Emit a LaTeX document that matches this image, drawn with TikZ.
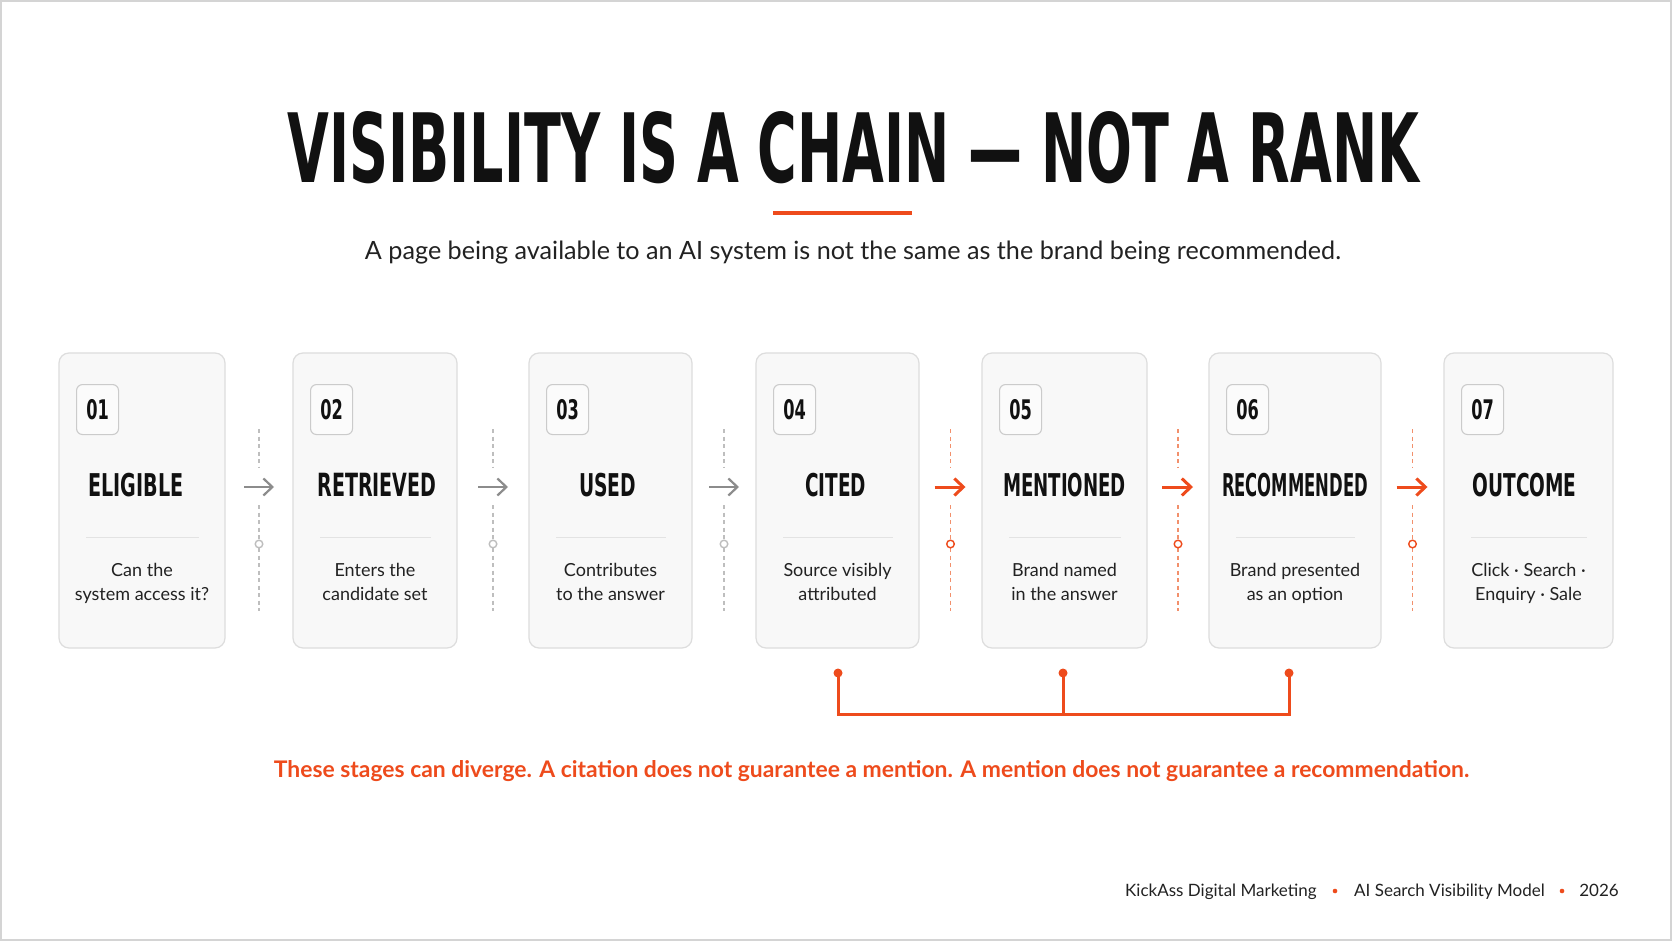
\documentclass[tikz,border=0pt]{standalone}
\usepackage{fontspec}
\setmainfont{Lato}
\newfontfamily\heavyfont{DejaVu Sans}
\usetikzlibrary{arrows.meta}
\definecolor{brand}{HTML}{EE4B1C}
\definecolor{ink}{HTML}{111111}
\definecolor{txt}{HTML}{222222}
\definecolor{cardfill}{HTML}{F8F8F8}
\definecolor{cardline}{HTML}{DDDDDD}
\definecolor{numfill}{HTML}{FBFBFB}
\definecolor{numline}{HTML}{CBCBCB}
\definecolor{divline}{HTML}{E3E3E3}
\definecolor{arrowgray}{HTML}{8C8C8C}
\definecolor{dashgray}{HTML}{BEBEBE}
\definecolor{dashorange}{HTML}{F2906C}
\definecolor{framecol}{HTML}{D4D4D4}
\newcommand\condtxt[2]{\scalebox{0.6}[1]{\fontsize{#1}{#1}\heavyfont\bfseries #2}}
\newcommand\fittxt[2]{\resizebox{#1pt}{23.3pt}{\heavyfont\bfseries #2}}
\tikzset{
  cardbox/.style={draw=cardline, line width=1.2pt, fill=cardfill, rounded corners=10pt, inner sep=0pt},
  numbox/.style={draw=numline, line width=1.1pt, fill=numfill, rounded corners=6pt,
    minimum width=42pt, minimum height=50pt, inner sep=0pt, anchor=north west, text=ink},
  stagetitle/.style={anchor=base, inner sep=0pt, text=ink},
  desc/.style={anchor=base, inner sep=0pt, text=txt, font=\fontsize{18}{24}\selectfont},
  divider/.style={draw=divline, line width=1pt},
  garrow/.style={draw=arrowgray, line width=2.2pt, -{Straight Barb[length=9pt,width=17pt]}},
  oarrow/.style={draw=brand, line width=3pt, -{Straight Barb[length=9pt,width=17pt]}},
  gdash/.style={draw=dashgray, line width=1.3pt, dash pattern=on 4pt off 3.5pt},
  odash/.style={draw=dashorange, line width=1.3pt, dash pattern=on 4pt off 3.5pt},
  gring/.style={draw=dashgray, fill=white, line width=1.4pt},
  oring/.style={draw=brand, fill=white, line width=1.4pt},
  bracket/.style={draw=brand, line width=3pt},
  footer/.style={inner sep=0pt, text=txt, font=\fontsize{17}{20}\selectfont},
}
\begin{document}
\begin{tikzpicture}[x=1pt,y=-1pt]
\useasboundingbox (0,0) rectangle (1672,941);
\fill[white] (0,0) rectangle (1672,941);
\draw[framecol, line width=2pt] (1,1) rectangle (1671,940);

% title
\node[anchor=base, inner sep=0pt, text=ink] (title) at (853.5,183)
  {\resizebox{1131pt}{71pt}{\heavyfont\bfseries VISIBILITY IS A CHAIN — NOT A RANK}};
\coordinate (ul1) at (773,213);
\coordinate (ul2) at (912,213);
\draw[brand, line width=3.5pt] (ul1) -- (ul2);
\node[anchor=base, inner sep=0pt, text=txt] (subtitle) at (853,259)
  {\resizebox{976pt}{!}{\fontsize{24}{24}\selectfont A page being available to an AI system is not the same as the brand being recommended.}};

% cards
\foreach \xl/\xr/\nn/\ttl/\tw/\tofs/\da/\db in {
 59/225/01/ELIGIBLE/95/-6/Can the/system access it?,
 293/457/02/RETRIEVED/119/2/Enters the/candidate set,
 529/692/03/USED/57/-3/Contributes/to the answer,
 756/919/04/CITED/61/-2/Source visibly/attributed,
 982/1147/05/MENTIONED/123/0/Brand named/in the answer,
 1209/1381/06/RECOMMENDED/146/0/Brand presented/as an option,
 1444/1613/07/OUTCOME/104/-4/Click · Search ·/Enquiry · Sale}{
  \pgfmathsetmacro\cx{(\xl+\xr)/2}
  \pgfmathsetmacro\cw{\xr-\xl}
  \node[cardbox, minimum width=\cw pt, minimum height=295pt] (card\nn) at (\cx,500.5) {};
  \node[numbox] (num\nn) at (\xl+17,384) {\condtxt{27}{\nn}};
  \node[stagetitle] (title\nn) at (\cx+\tofs,496) {\fittxt{\tw}{\ttl}};
  \coordinate (dl\nn) at (\xl+27,537);
  \coordinate (dr\nn) at (\xr-26,537);
  \draw[divider] (dl\nn) -- (dr\nn);
  \node[desc] (desca\nn) at (\cx,576) {\da};
  \node[desc] (descb\nn) at (\cx,600) {\db};
}

% gray connectors
\foreach \x/\i in {259/1, 493/2, 724/3}{
  \draw[gdash] (\x,429) -- (\x,468) (\x,505) -- (\x,540) (\x,548) -- (\x,611);
  \draw[gring] (\x,544) circle[radius=3.8];
  \coordinate (as\i) at (\x-15,487);
  \coordinate (ae\i) at (\x+15,487);
  \draw[garrow] (as\i) -- (ae\i);
}
% orange connectors
\foreach \x/\i in {950.5/4, 1178/5, 1412.5/6}{
  \draw[odash] (\x,429) -- (\x,468) (\x,505) -- (\x,540) (\x,548) -- (\x,611);
  \draw[oring] (\x,544) circle[radius=3.8];
  \coordinate (as\i) at (\x-16,487);
  \coordinate (ae\i) at (\x+15,487);
  \draw[oarrow] (as\i) -- (ae\i);
}

% bracket
\coordinate (b1) at (838,673);
\coordinate (b2) at (1063,673);
\coordinate (b3) at (1289,673);
\coordinate (k1) at (838,714);
\coordinate (k2) at (1063,714);
\coordinate (k3) at (1289,714);
\draw[bracket] (b1) -- (k1) -- (k3) -- (b3);
\draw[bracket] (b2) -- (k2);
\foreach \p in {b1,b2,b3}{\fill[brand] (\p) circle[radius=4.5];}

\node[anchor=base, inner sep=0pt, text=brand] (note) at (871.5,777)
  {\resizebox{1195pt}{!}{\fontsize{24}{24}\selectfont\bfseries These stages can diverge. A citation does not guarantee a mention. A mention does not guarantee a recommendation.}};

% footer
\node[footer, anchor=base west] (f1) at (1125,896) {KickAss Digital Marketing};
\node[footer, anchor=base west] (f2) at (1354,896) {AI Search Visibility Model};
\node[footer, anchor=base east] (f3) at (1619,896) {2026};
\fill[brand] (1335,891) circle[radius=2.3];
\fill[brand] (1562,891) circle[radius=2.3];
\end{tikzpicture}
\end{document}
